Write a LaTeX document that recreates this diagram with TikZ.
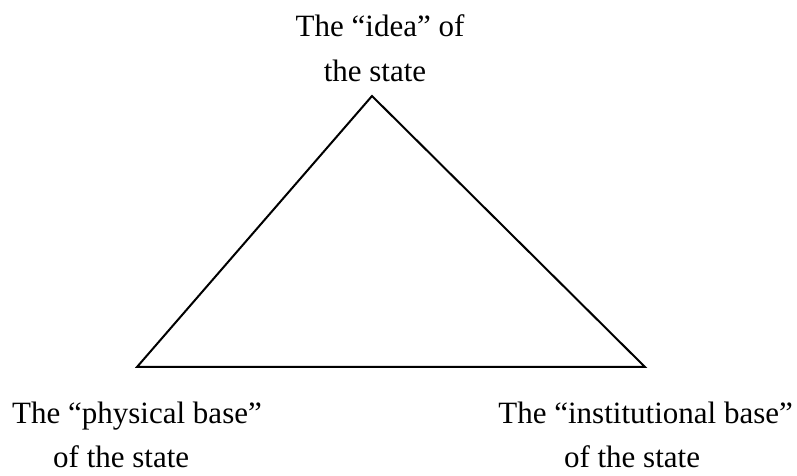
\documentclass[tikz,border=0pt]{standalone}
\usepackage{fontspec}
\setmainfont{Liberation Serif}
\begin{document}
\begin{tikzpicture}[x=1pt,y=1pt,
  lbl/.style={inner sep=0pt,anchor=base,font=\fontsize{31}{37}\selectfont},
  edge/.style={line width=2pt,line join=miter}]
\useasboundingbox (0,0) rectangle (797,476);
\coordinate (apex) at (372,380);
\coordinate (bl) at (137,109);
\coordinate (br) at (645,109);
\draw[edge] (apex) -- (bl) -- (br) -- cycle;
\node[lbl] (idea1) at (380,439) {The “idea” of};
\node[lbl] (idea2) at (375,394) {the state};
\node[lbl,anchor=base west] (phys1) at (12,52) {The “physical base”};
\node[lbl,anchor=base west] (phys2) at (53,9) {of the state};
\node[lbl,anchor=base east] (inst1) at (793,52) {The “institutional base”};
\node[lbl] (inst2) at (632,9) {of the state};
\end{tikzpicture}
\end{document}
